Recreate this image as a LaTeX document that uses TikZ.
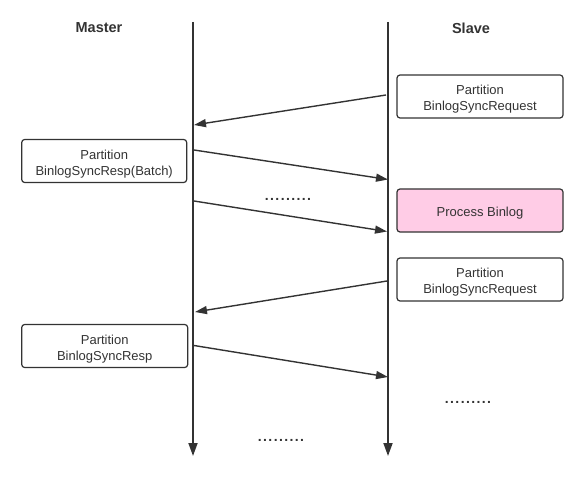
\documentclass[tikz,border=0pt]{standalone}
\usepackage{fontspec}
\setmainfont{Liberation Sans}
\usetikzlibrary{arrows.meta}
\definecolor{ink}{HTML}{333333}
\definecolor{procpink}{HTML}{FFCCE6}
\newcommand\boxstrut{\rule{0pt}{15pt}}
\tikzset{
  msgbox/.style = {draw=ink, line width=1.2pt, rounded corners=3pt,
    align=center, inner sep=0pt, text=ink, minimum width=166pt,
    minimum height=43pt, font=\fontsize{13}{16}\selectfont},% boite message
  head/.style = {text=ink, font=\fontsize{14.5}{16}\selectfont\bfseries},% titre
  dots/.style = {text=ink, font=\fontsize{14}{14}\selectfont\bfseries\addfontfeature{LetterSpace=10}},
  life/.style = {draw=ink, line width=1.8pt, -{Triangle[length=13pt,width=9pt]}},
  msg/.style = {draw=ink, line width=1.4pt, -{Triangle[length=12pt,width=8pt]}}
}
\begin{document}
\begin{tikzpicture}[x=1pt,y=-1pt]
\useasboundingbox (0,0) rectangle (588,486);
\node [head] (master) at (99,28) {Master};
\node [head] (slave) at (471,28) {Slave};
% lignes de vie
\coordinate (mtop) at (193,22); \coordinate (mbot) at (193,456);
\coordinate (stop) at (388,22); \coordinate (sbot) at (388,456);
\draw [life] (mtop) -- (mbot);
\draw [life] (stop) -- (sbot);
% boites
\node [msgbox] (req1) at (480,96.5) {\boxstrut Partition\\BinlogSyncRequest};
\node [msgbox, minimum width=165pt] (resp1) at (104.2,161)
  {\boxstrut Partition\\BinlogSyncResp(Batch)};
\node [msgbox, fill=procpink] (proc) at (480,210.5) {\boxstrut Process Binlog};
\node [msgbox] (req2) at (480,279.5) {\boxstrut Partition\\BinlogSyncRequest};
\node [msgbox] (resp2) at (104.7,346) {\boxstrut Partition\\BinlogSyncResp};
% messages
\coordinate (s1) at (386,95);  \coordinate (m1) at (194,125);
\coordinate (m2) at (194,150); \coordinate (s2) at (388,179.5);
\coordinate (m3) at (194,201); \coordinate (s3) at (387,231.5);
\coordinate (s4) at (387,281); \coordinate (m4) at (195,312);
\coordinate (m5) at (194,345.5); \coordinate (s5) at (388,377);
\draw [msg] (s1) -- (m1);
\draw [msg] (m2) -- (s2);
\draw [msg] (m3) -- (s3);
\draw [msg] (s4) -- (m4);
\draw [msg] (m5) -- (s5);
\node [dots] (dots1) at (288,199) {.........};
\node [dots] (dots2) at (468,402) {.........};
\node [dots] (dots3) at (281,440) {.........};
\end{tikzpicture}
\end{document}
